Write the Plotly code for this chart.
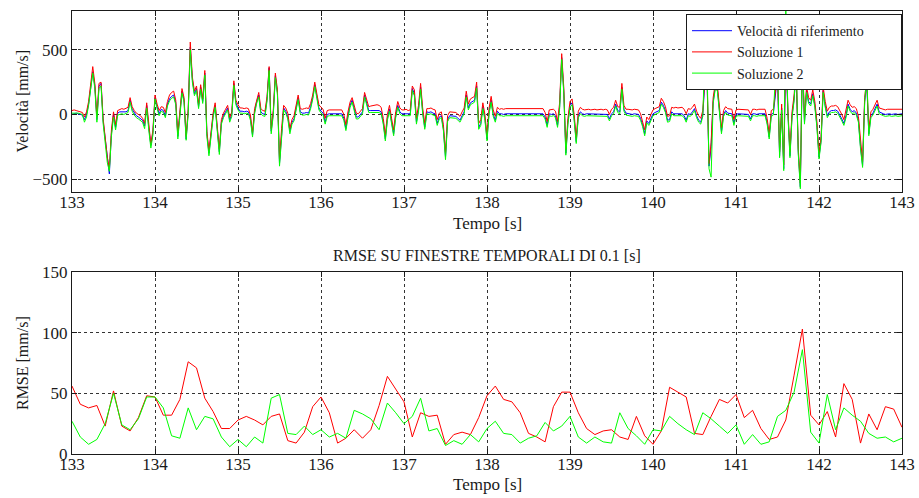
import numpy as np
import plotly.graph_objects as go

# ---------------- Velocity signals, sampled every 0.025 s from 133 s to 143 s ----------------
vel_rif = (
    [0, 5, 10, 5, 0, -5, -40, 0, 80, 200, 330, 220, -40, 220, 240, -50, -200, -350, -460, -150,
     0, -100, 10, 20, 20, 15, 20, 30, 110, 40, 10, -10, -20, -30, -45, -90, 70, -100, -240, -140]
    + [130, 60, 5, 40, 30, -10, 80, 120, 140, 150, 90, -170, 20, 180, 110, -190, 20, 520, 270, 160,
       200, 60, 210, 100, 320, -150, -300, -130, -10, 70, -130, -290, -60, -10, 20, 50, -45, 0, 240, 90]
    + [50, 25, 25, 20, 25, 20, -30, -160, 20, 100, 150, 20, 5, 0, 120, 360, -130, 10, 300, 170,
       -380, -130, 50, 25, -20, -130, -60, -35, 40, 130, 20, 10, 10, 15, 10, 60, 130, 230, 140, 50]
    + [25, 10, -60, 0, 5, 5, 0, 5, 5, 0, 5, -30, -110, -10, 70, 110, 40, -20, -20, 0,
       20, 150, 90, 30, 30, 30, 25, 30, 30, 20, -60, -190, -30, 40, -60, -150, -10, 70, 20, 5]
    + [5, 5, 0, 5, 200, 160, -60, 40, 210, 20, -100, 20, 15, 20, 10, 5, -70, -20, -10, -110,
       -330, -40, -10, -10, -10, -15, -30, -45, -10, 20, 150, 50, 90, 100, 110, 220, -100, -70, 60, -30]
    + [-190, 20, 110, 0, -45, 25, 5, 5, 0, 5, 5, 0, 5, 5, 5, 0, 5, 0, 5, 5,
       0, 5, 5, 0, 5, 5, 0, 5, -20, -85, 5, 0, 5, -10, -85, 60, 440, 180, -300, -60]
    + [70, 90, -30, -210, -10, 20, 5, 0, 5, 5, 0, 5, 5, 0, 5, 5, 0, 5, 0, -35,
       5, 20, 80, 30, 20, 210, 40, 10, 5, 5, 0, 5, 5, 0, -30, -80, -150, -50, -70, -30]
    + [5, 15, 25, 30, 95, 70, 30, -45, -40, 20, 5, 5, 0, 5, 5, -10, -45, 5, 0, 20,
       45, -10, -45, -60, 0, 250, 300, -400, -250, 100, 210, 200, 40, -135, 0, 30, 10, 5, 5, -70]
    + [0, 5, 5, 0, 5, 5, 0, -35, 5, 5, 0, 5, 5, 0, 5, -60, -175, 0, 10, 150,
       300, -320, 50, -420, 480, 20, -320, -10, 120, 330, -290, -560, 400, -60, 185, 100, 80, 160, 70, -85]
    + [-330, -200, 185, 70, -10, 20, 30, 30, 35, 25, 0, -35, -70, -10, 80, 40, 20, 30, 10, -45,
       -250, -395, 100, 240, -150, -10, 10, 40, 80, 20, 10, 5, 0, 5, 5, 0, 5, 5, 0, 5, 5]
)

vel_sol1 = (
    [30, 35, 30, 25, 20, 15, -20, 20, 100, 230, 370, 240, -20, 240, 250, -30, -180, -330, -420, -120,
     20, -80, 30, 40, 45, 40, 45, 55, 130, 60, 30, 10, 0, -10, -30, -70, 90, -80, -230, -120]
    + [150, 80, 30, 60, 55, 15, 100, 150, 170, 180, 110, -150, 45, 200, 130, -170, 40, 560, 290, 180,
       220, 80, 230, 120, 340, -130, -280, -110, 10, 90, -110, -270, -40, 10, 40, 70, -25, 20, 260, 110]
    + [75, 50, 50, 45, 50, 45, -5, -140, 45, 120, 170, 45, 30, 25, 140, 370, -110, 30, 320, 190,
       -350, -110, 70, 50, 10, -110, -40, -10, 60, 150, 45, 40, 45, 50, 45, 85, 150, 250, 160, 75]
    + [55, 40, -30, 30, 35, 35, 30, 35, 35, 30, 35, 0, -80, 20, 95, 130, 65, 10, 5, 25,
       45, 170, 115, 60, 65, 70, 70, 75, 70, 55, -30, -160, 0, 70, -30, -120, 20, 100, 50, 35]
    + [35, 40, 30, 35, 220, 190, -30, 70, 240, 50, -70, 45, 45, 50, 40, 35, -40, 10, 20, -80,
       -300, -10, 20, 20, 20, 15, 0, -15, 20, 50, 180, 80, 120, 130, 140, 250, -70, -40, 90, 0]
    + [-160, 50, 140, 35, -15, 55, 40, 45, 40, 45, 45, 40, 45, 45, 40, 40, 45, 40, 45, 45,
       40, 45, 40, 40, 45, 40, 40, 45, 15, -55, 35, 35, 40, 25, -55, 90, 470, 210, -270, -30]
    + [100, 120, 0, -180, 25, 55, 40, 35, 40, 40, 35, 40, 40, 35, 40, 40, 35, 40, 35, 0,
       40, 55, 110, 60, 55, 240, 70, 40, 40, 35, 35, 40, 35, 35, 5, -50, -120, -20, -40, 0]
    + [35, 45, 55, 60, 125, 100, 60, -15, -10, 55, 50, 55, 50, 55, 55, 40, 5, 45, 40, 55,
       80, 25, -10, -30, 30, 280, 330, -380, -220, 130, 240, 230, 70, -105, 30, 60, 45, 40, 40, -40]
    + [35, 40, 40, 35, 40, 40, 35, 0, 40, 40, 35, 40, 40, 35, 40, -30, -150, 30, 40, 180,
       330, -290, 80, -390, 520, 50, -290, 20, 150, 360, -260, -530, 430, -30, 215, 130, 110, 190, 100, -55]
    + [-300, -170, 215, 100, 25, 55, 65, 65, 70, 60, 35, 0, -40, 25, 110, 75, 55, 60, 45, -15,
       -220, -365, 130, 270, -120, 20, 40, 70, 110, 50, 45, 40, 35, 40, 40, 35, 40, 40, 35, 40, 40]
)

vel_sol2 = (
    [10, 10, 15, 10, 5, 0, -60, -20, 70, 190, 320, 200, -60, 200, 220, -70, -220, -370, -440, -170,
     -20, -120, -5, 0, 5, 0, 5, 15, 95, 25, -5, -25, -35, -45, -60, -110, 50, -120, -260, -160]
    + [120, 45, -10, 25, 15, -25, 65, 105, 125, 135, 75, -190, 5, 165, 95, -200, 5, 500, 250, 145,
       185, 45, 195, 85, 305, -170, -320, -150, -25, 55, -150, -310, -75, -25, 5, 35, -60, -15, 225, 75]
    + [35, 10, 10, 5, 10, 5, -45, -175, 5, 85, 135, 5, -10, -15, 105, 340, -150, -5, 285, 155,
       -400, -150, 35, 10, -35, -150, -75, -50, 25, 115, 5, -5, -5, 0, -5, 45, 115, 215, 125, 35]
    + [10, -5, -75, -15, -10, -10, -15, -10, -10, -15, -10, -45, -125, -25, 55, 95, 25, -35, -35, -15,
       5, 135, 75, 15, 15, 15, 10, 15, 15, 5, -75, -205, -45, 25, -75, -165, -25, 55, 5, -10]
    + [-10, -10, -15, -10, 185, 145, -75, 25, 195, 5, -115, 5, 0, 5, -5, -10, -85, -35, -25, -125,
       -350, -55, -25, -25, -25, -30, -45, -60, -25, 5, 135, 35, 75, 85, 95, 205, -115, -85, 45, -45]
    + [-205, 5, 95, -15, -60, 10, -10, -10, -15, -10, -10, -15, -10, -10, -15, -15, -10, -15, -10, -10,
       -15, -10, -15, -15, -10, -15, -15, -10, -35, -100, -10, -15, -10, -25, -100, 45, 425, 165, -315, -75]
    + [55, 75, -45, -225, -25, 5, -10, -15, -10, -10, -15, -10, -10, -15, -10, -10, -15, -10, -15, -50,
       -10, 5, 65, 15, 5, 195, 25, -5, -10, -10, -15, -10, -10, -15, -45, -95, -165, -65, -85, -45]
    + [-10, 0, 10, 15, 80, 55, 15, -60, -55, 5, -10, -10, -15, -10, -10, -25, -60, -10, -15, 5,
       30, -25, -60, -75, -15, 480, 420, -420, -485, 85, 195, 185, 25, -150, -15, 15, -5, -10, -10, -85]
    + [-15, -10, -10, -15, -10, -10, -15, -50, -10, -10, -15, -10, -10, -15, -10, -75, -190, -15, -5, 300,
       420, -335, 35, -435, 850, 5, -335, -25, 105, 420, -305, -575, 500, -75, 170, 85, 65, 145, 55, -100]
    + [-345, -215, 170, 55, -25, 5, 15, 15, 20, 10, -15, -50, -85, -25, 65, 25, 5, 15, -5, -60,
       -265, -410, 85, 330, -165, -25, -5, 25, 65, 5, -5, -10, -15, -10, -10, -15, -10, -10, -15, -10, -10]
)

time = np.round(133.0 + 0.025 * np.arange(len(vel_rif)), 3)

# ---------------- RMSE over 0.1 s windows ----------------
rmse_sol1 = [
    56, 41, 38, 40, 23, 52, 23, 19, 30, 48,
    47, 32, 32, 45, 76, 71, 46, 35, 21, 21,
    28, 31, 28, 24, 31, 33, 11, 9, 18, 39,
    47, 34, 9, 13, 20, 13, 20, 40, 64, 53,
    43, 14, 34, 31, 32, 8, 16, 18, 16, 30,
    48, 56, 45, 43, 34, 17, 14, 10, 39, 51,
    51, 34, 21, 16, 19, 20, 14, 12, 31, 15,
    8, 19, 55, 51, 47, 17, 16, 31, 45, 42,
    49, 30, 36, 21, 12, 14, 28, 65, 103, 32,
    24, 35, 14, 58, 45, 9, 33, 20, 39, 37,
    22,
]
rmse_sol2 = [
    27, 14, 8, 12, 25, 50, 24, 20, 29, 47,
    47, 38, 15, 13, 38, 20, 31, 29, 14, 6,
    12, 6, 14, 9, 46, 49, 17, 16, 23, 16,
    20, 14, 17, 13, 36, 33, 29, 20, 42, 34,
    25, 31, 46, 19, 21, 7, 11, 8, 16, 10,
    21, 27, 17, 16, 9, 13, 15, 26, 19, 23,
    31, 14, 9, 14, 10, 9, 34, 21, 15, 8,
    20, 19, 31, 25, 20, 16, 34, 29, 23, 17,
    24, 8, 16, 8, 10, 31, 36, 51, 86, 18,
    9, 49, 20, 38, 32, 27, 17, 13, 14, 10,
    13,
]
rmse_time = np.round(133.0 + 0.1 * np.arange(len(rmse_sol1)), 1)

x_ticks = list(range(133, 144))
vel_ticks = [-500, 0, 500]
rmse_ticks = [0, 50, 100, 150]

BLUE, RED, GREEN = "#0000FF", "#FF0000", "#00FF00"
FONT = "Liberation Serif, Times New Roman, serif"
INK = "#1a1a1a"
PAD = "\u00a0" * 9  # widens the legend box on its right side

fig = go.Figure()
for y, color, name in [(vel_rif, BLUE, "Velocità di riferimento" + PAD),
                       (vel_sol1, RED, "Soluzione 1"),
                       (vel_sol2, GREEN, "Soluzione 2")]:
    fig.add_trace(go.Scatter(x=time, y=y, mode="lines", name=name,
                             line=dict(color=color, width=1),
                             xaxis="x", yaxis="y"))

for y, color in [(rmse_sol1, RED), (rmse_sol2, GREEN)]:
    fig.add_trace(go.Scatter(x=rmse_time, y=y, mode="lines", showlegend=False,
                             line=dict(color=color, width=1),
                             xaxis="x2", yaxis="y2"))

axis_common = dict(
    showline=True, linecolor=INK, linewidth=1, mirror="ticks",
    ticks="inside", ticklen=5, tickcolor=INK,
    showgrid=True, gridcolor="#333333", griddash="dot", gridwidth=1,
    zeroline=False,
    tickfont=dict(family=FONT, size=17, color=INK),
)
x_common = dict(range=[133, 143], tickvals=x_ticks, ticklabelstandoff=-5, **axis_common)

fig.update_layout(
    width=919, height=498,
    margin=dict(l=72, r=17, t=11, b=44, autoexpand=False),
    paper_bgcolor="white", plot_bgcolor="white",
    font=dict(family=FONT, size=17, color=INK),
    xaxis=dict(domain=[0, 1], anchor="y", **x_common),
    yaxis=dict(domain=[0.5914, 1], anchor="x", range=[-600, 800], tickvals=vel_ticks, **axis_common),
    xaxis2=dict(domain=[0, 1], anchor="y2", **x_common),
    yaxis2=dict(domain=[0, 0.4108], anchor="x2", range=[0, 150], tickvals=rmse_ticks, **axis_common),
    legend=dict(x=1, xanchor="right", y=0.993, yanchor="top",
                bgcolor="white", bordercolor=INK, borderwidth=1, itemwidth=40,
                font=dict(family=FONT, size=14, color=INK)),
    showlegend=True,
)

annotations = [
    dict(text="Tempo [s]", x=0.5, y=0.521, size=17),
    dict(text="Tempo [s]", x=0.5, y=-0.068, size=17),
    dict(text="RMSE SU FINESTRE TEMPORALI DI 0.1 [s]", x=0.5, y=0.447, size=16),
    dict(text="Velocità [mm/s]", x=-0.0602, y=0.7957, angle=-90, size=16),
    dict(text="RMSE [mm/s]", x=-0.0602, y=0.2054, angle=-90, size=16),
]
for a in annotations:
    fig.add_annotation(
        text=a["text"], x=a["x"], y=a["y"], xref="paper", yref="paper",
        xanchor="center", yanchor="middle", showarrow=False,
        textangle=a.get("angle", 0),
        font=dict(family=FONT, size=a["size"], color=INK),
    )

fig.write_html("out.html")
